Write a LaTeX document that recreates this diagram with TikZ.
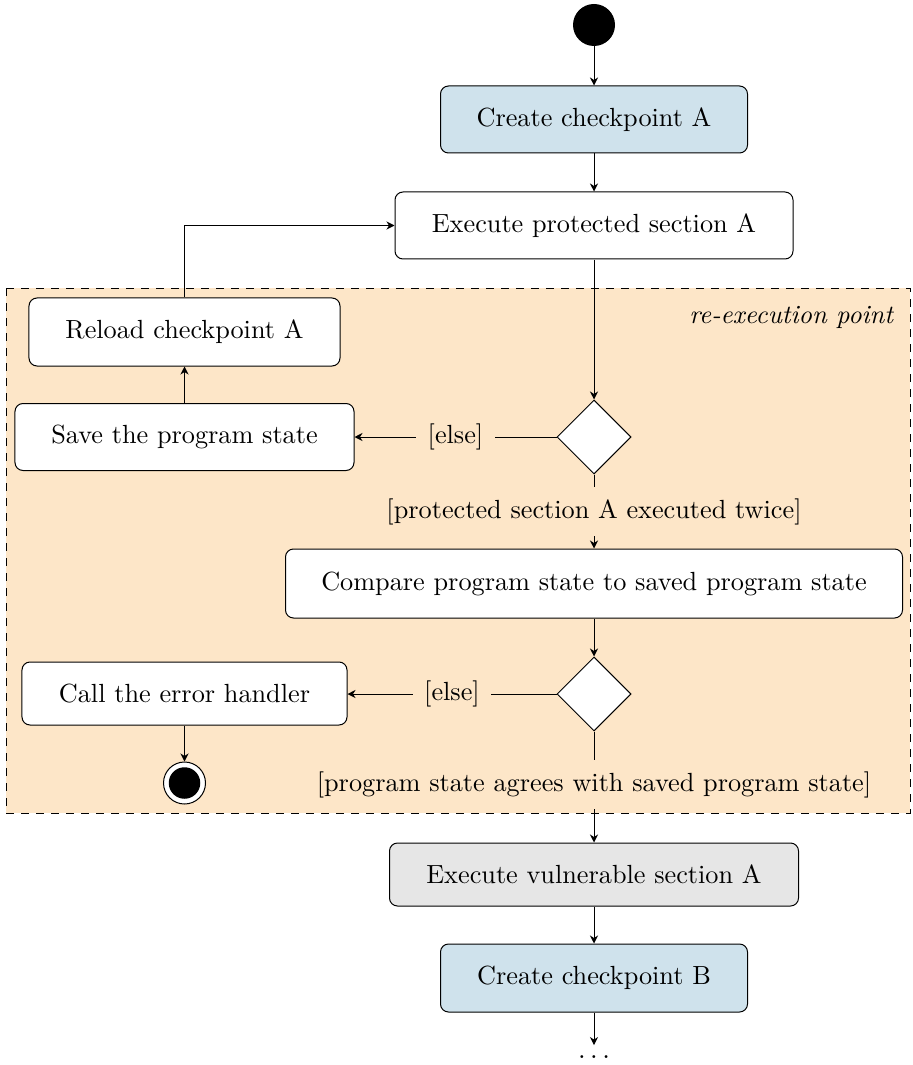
\documentclass[tikz,border=0pt]{standalone}
\usetikzlibrary{shapes.geometric,arrows.meta}
\definecolor{cpblue}{RGB}{207,226,236}
\definecolor{regionbg}{RGB}{253,230,200}
\definecolor{vulngray}{RGB}{230,230,230}
\newcommand{\diagfont}{\fontsize{10.5pt}{12.6pt}\selectfont}
\begin{document}
\begin{tikzpicture}[x=0.4pt,y=-0.4pt,
  every node/.style={font=\diagfont},
  action/.style={draw, rounded corners=3.2pt, fill=white, align=center,
    inner sep=0pt, minimum height=26.8pt},
  decision/.style={draw, diamond, fill=white, inner sep=0pt,
    minimum width=29.6pt, minimum height=29.6pt},
  flow/.style={-{Stealth[length=3.2pt,width=3.2pt,inset=1pt]}},
  guard/.style={fill=regionbg, inner sep=4.5pt},
  startnode/.style={circle, fill=black, minimum size=16.8pt, inner sep=0pt},
]
\useasboundingbox (0,0) rectangle (912,1065);

% protected region behind the re-execution loop
\draw[dashed, fill=regionbg] (6,288) rectangle (910,813);
\node[anchor=east, font=\diagfont\itshape] (relabel) at (902,317) {re-execution point};

% main flow
\node[startnode] (start) at (594,25) {};
\node[action, fill=cpblue, minimum width=122.8pt] (cpA) at (594,119.5) {Create checkpoint A};
\node[action, minimum width=159.2pt] (execA) at (594,225.5) {Execute protected section A};
\node[decision] (dec1) at (594,437) {};
\node[action, minimum width=246.8pt, minimum height=27.6pt] (cmp) at (594,583.5) {Compare program state to saved program state};
\node[decision] (dec2) at (594,694) {};
\node[action, fill=vulngray, minimum width=163.6pt, minimum height=25.2pt] (vulnA) at (594,874.5) {Execute vulnerable section A};
\node[action, fill=cpblue, minimum width=122.8pt, minimum height=27.2pt] (cpB) at (594,978) {Create checkpoint B};
\node[inner sep=4pt] (more) at (594,1057) {$\ldots$};

% re-execution branch
\node[action, minimum width=124.4pt, minimum height=27.2pt] (reload) at (184.5,332) {Reload checkpoint A};
\node[action, minimum width=135.6pt] (save) at (184.5,437) {Save the program state};

% error branch
\node[action, minimum width=130pt, minimum height=25.2pt] (err) at (184.5,693.5) {Call the error handler};
\node[circle, draw, fill=white, minimum size=16.8pt, inner sep=0pt] (stop) at (184.5,783) {};
\node[circle, fill=black, minimum size=12.6pt, inner sep=0pt] (stopdot) at (184.5,783) {};

% connectors
\draw[flow] (start) -- (cpA);
\draw[flow] (cpA) -- (execA);
\draw[flow] (execA) -- (dec1);
\draw[flow] (dec1) -- node[guard] {[else]} (save);
\draw[flow] (save) -- (reload);
\draw[flow] (reload.north) |- (execA.west);
\draw[flow] (dec1) -- node[guard] {[protected section A executed twice]} (cmp);
\draw[flow] (cmp) -- (dec2);
\draw[flow] (dec2.west) -- node[guard] {[else]} (err.east |- dec2.west);
\draw[flow] (err) -- (stop);
\draw[flow] (dec2) -- node[guard, pos=0.48] {[program state agrees with saved program state]} (vulnA);
\draw[flow] (vulnA) -- (cpB);
\draw[flow] (cpB) -- (more);
\end{tikzpicture}
\end{document}
